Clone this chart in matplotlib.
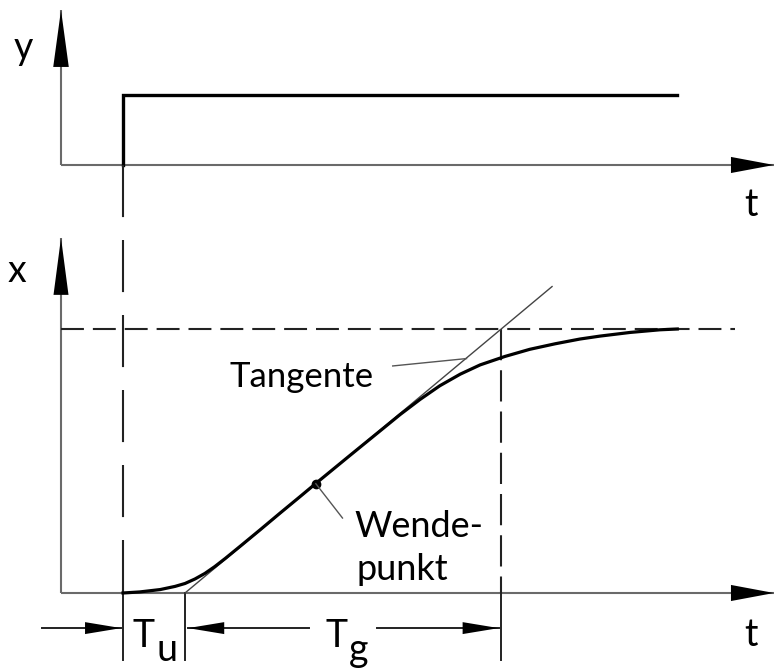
import matplotlib.pyplot as plt

plt.rcParams['font.family'] = ['Lato', 'DejaVu Sans']

# step input y(t)
step_t = [0.0, 0.0, 8.94]
step_y = [0.0, 1.0, 1.0]

# step response x(t)
curve_t = [0.00, 0.27, 0.60, 0.84, 1.00, 1.16, 1.32, 1.48, 1.65, 1.89, 2.21, 2.53,
           2.85, 3.11, 3.66, 4.23, 4.47, 4.79, 5.11, 5.44, 5.76, 6.16, 6.56, 6.97,
           7.37, 7.69, 8.18, 8.66, 8.94]
curve_x = [0.000, 0.004, 0.013, 0.025, 0.036, 0.053, 0.074, 0.100, 0.131, 0.177, 0.239, 0.302,
           0.364, 0.415, 0.521, 0.630, 0.676, 0.733, 0.785, 0.829, 0.864, 0.896, 0.923, 0.944,
           0.962, 0.973, 0.987, 0.997, 1.000]

Tu = 1.0
Tg = 5.1
infl_t, infl_x = 3.11, 0.414
tangent_t = [Tu, 6.92]
tangent_x = [0.0, (6.92 - Tu) / Tg]

T0 = -1.0          # where the vertical axes stand
T_END = 10.5       # tip of the time axes
AXIS_GRAY = '#6a6a6a'

fig = plt.figure(figsize=(7.76, 6.71), dpi=100)
ax_top = fig.add_axes([0, 441 / 671, 1, 230 / 671])
ax_bot = fig.add_axes([0, 0, 1, 441 / 671])
for ax in (ax_top, ax_bot):
    ax.set_xlim(-1.984, 10.532)
    ax.axis('off')
ax_top.set_ylim(-0.929, 2.357)
ax_bot.set_ylim(-0.2955, 1.375)


def head(ax, tail, tip, hl, hw):
    ax.annotate('', xy=tip, xytext=tail, annotation_clip=False,
                arrowprops=dict(arrowstyle=f'-|>,head_length={hl},head_width={hw}',
                                mutation_scale=1, lw=0, color='black',
                                shrinkA=0, shrinkB=0))


def axis_arrow(ax, tail, tip, hl=40, hw=5.5):
    ax.plot([tail[0], tip[0]], [tail[1], tip[1]], color=AXIS_GRAY, lw=1.5,
            solid_capstyle='butt')
    head(ax, tail, tip, hl, hw)


# ---- top panel: y(t)
axis_arrow(ax_top, (T0, 0), (T0, 2.214), hl=41, hw=5.6)
axis_arrow(ax_top, (T0, 0), (T_END, 0), hl=31, hw=5.8)
ax_top.plot(step_t, step_y, color='black', lw=2.4, solid_joinstyle='miter')
ax_top.text(-1.61, 1.67, 'y', fontsize=27, ha='center', va='center')
ax_top.text(10.13, -0.57, 't', fontsize=27, ha='center', va='center')

# ---- bottom panel: x(t)
axis_arrow(ax_bot, (T0, 0), (T0, 1.345), hl=41, hw=5.4)
axis_arrow(ax_bot, (T0, 0), (T_END, 0), hl=31, hw=5.8)
ax_bot.text(-1.71, 1.22, 'x', fontsize=27, ha='center', va='center')
ax_bot.text(10.13, -0.16, 't', fontsize=27, ha='center', va='center')

# dashed guide lines
y_top_base = ax_bot.transData.inverted().transform(ax_top.transData.transform((0, 0)))[1]
ax_bot.plot([0, 0], [y_top_base, 0], color='#222222', lw=1.5, dashes=(25, 11), clip_on=False)
ax_bot.plot([T0, 9.87], [1, 1], color='#222222', lw=1.5, dashes=(11, 4.3))
ax_bot.plot([Tu + Tg, Tu + Tg], [1, 0], color='#222222', lw=1.5, dashes=(15, 4.8))

# extension lines below the time axis
for tx in (0.0, Tu, Tu + Tg):
    ax_bot.plot([tx, tx], [0, -0.254], color='#222222', lw=1.4)

ax_bot.plot(tangent_t, tangent_x, color='#444444', lw=1.0)
ax_bot.plot(curve_t, curve_x, color='black', lw=2.3, solid_joinstyle='round')
ax_bot.plot(infl_t, infl_x, 'o', color='black', ms=6)

# labels with leader lines
ax_bot.plot([4.35, 5.54], [0.860, 0.888], color='#555555', lw=1.0)
ax_bot.text(1.71, 0.78, 'Tangente', fontsize=25, va='baseline')
ax_bot.plot([infl_t, 3.54], [infl_x, 0.284], color='#555555', lw=1.0)
ax_bot.text(3.74, 0.212, 'Wende-', fontsize=26, va='baseline')
ax_bot.text(3.77, 0.049, 'punkt', fontsize=26, va='baseline')

# dimension arrows for Tu and Tg
dim_x = -0.133
for tail, tip in ((-1.31, -0.03), (3.0, Tu + 0.05), (4.1, Tu + Tg - 0.04)):
    ax_bot.plot([tail, tip], [dim_x, dim_x], color='#222222', lw=1.4)
    head(ax_bot, (tail, dim_x), (tip, dim_x), 26, 4.3)

ax_bot.text(0.16, -0.2045, 'T', fontsize=27, va='baseline')
ax_bot.text(0.54, -0.258, 'u', fontsize=27, va='baseline')
ax_bot.text(3.27, -0.2045, 'T', fontsize=27, va='baseline')
ax_bot.text(3.65, -0.258, 'g', fontsize=27, va='baseline')

fig.savefig('out.png', dpi=100)
